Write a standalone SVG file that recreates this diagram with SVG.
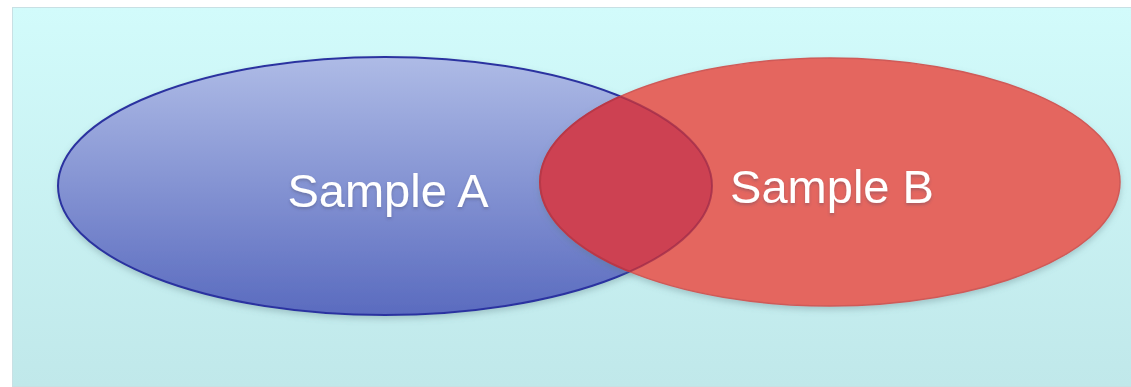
<svg xmlns="http://www.w3.org/2000/svg" width="1131" height="387" viewBox="0 0 1131 387">
<defs>
<linearGradient id="bg" x1="0" y1="0" x2="0" y2="1"><stop offset="0" stop-color="#d2fbfb"/><stop offset="1" stop-color="#c0e8ea"/></linearGradient>
<linearGradient id="gA" x1="0" y1="0" x2="0" y2="1"><stop offset="0" stop-color="#aebbe6"/><stop offset="1" stop-color="#5a6bbf"/></linearGradient>
<clipPath id="clipB"><ellipse cx="830" cy="182" rx="290" ry="124"/></clipPath>
<clipPath id="clipA"><ellipse cx="385" cy="186" rx="327" ry="129"/></clipPath>
<filter id="sh" x="-5%" y="-5%" width="110%" height="115%"><feDropShadow dx="0" dy="3" stdDeviation="3" flood-color="#5a7a80" flood-opacity="0.35"/></filter>
<filter id="tsh" x="-5%" y="-20%" width="110%" height="140%"><feDropShadow dx="0" dy="2" stdDeviation="1.5" flood-color="#404060" flood-opacity="0.35"/></filter>
</defs>
<style>
.lbl{font-family:"Liberation Sans",Arial,sans-serif;font-size:47px;fill:#ffffff;text-anchor:middle}
</style>
<rect x="0" y="0" width="1131" height="387" fill="#ffffff"/>
<rect x="12.5" y="7.5" width="1119" height="379" fill="url(#bg)" stroke="#c8e0e4" stroke-width="1"/>
<g id="sampleA">
<ellipse cx="385" cy="186" rx="327" ry="129" fill="url(#gA)" stroke="#2c33a0" stroke-width="2" filter="url(#sh)"/>
</g>
<g id="sampleB">
<ellipse cx="830" cy="182" rx="290" ry="124" fill="#e4665e" stroke="#cf5a58" stroke-width="1.5" filter="url(#sh)"/>
<g clip-path="url(#clipB)">
<ellipse cx="385" cy="186" rx="327" ry="129" fill="#cd4152"/>
<ellipse cx="385" cy="186" rx="327" ry="129" fill="none" stroke="#9a2a48" stroke-width="2" opacity="0.7"/>
</g>
<g clip-path="url(#clipA)">
<ellipse cx="830" cy="182" rx="290" ry="124" fill="none" stroke="#b83848" stroke-width="2"/>
</g>
</g>
<g id="labels" filter="url(#tsh)">
<text class="lbl" x="388" y="207">Sample A</text>
<text class="lbl" x="832" y="203">Sample B</text>
</g>
<g id="connectors"/>
</svg>
